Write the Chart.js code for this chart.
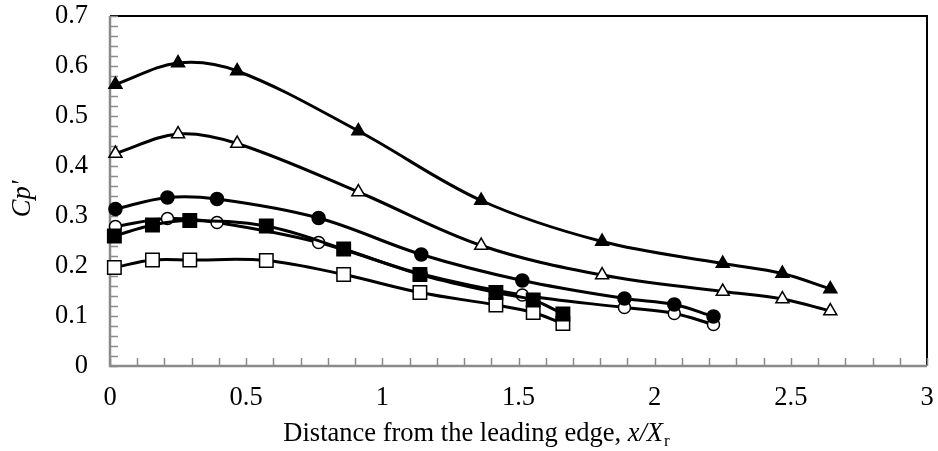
<!DOCTYPE html>
<html>
<head>
<meta charset="utf-8">
<script src="https://cdn.jsdelivr.net/npm/chart.js@4/dist/chart.umd.min.js"></script>
<style>
  html, body { margin: 0; padding: 0; background: #ffffff; }
  #wrap { width: 938px; height: 451px; position: relative; }
</style>
</head>
<body>
<div id="wrap"><canvas id="c" width="938" height="451"></canvas></div>
<script>
// Measuring stations (x/Xr) and fluctuating pressure coefficient Cp' for each case
const xTri = [0.02, 0.25, 0.467, 0.912, 1.363, 1.807, 2.25, 2.469, 2.645];
const cpFilledTri = [0.563, 0.606, 0.59, 0.47, 0.331, 0.249, 0.205, 0.185, 0.154];
const cpOpenTri = [0.425, 0.464, 0.445, 0.348, 0.241, 0.182, 0.149, 0.134, 0.11];

const xCirc = [0.02, 0.211, 0.393, 0.766, 1.143, 1.514, 1.889, 2.072, 2.216];
const cpFilledCirc = [0.314, 0.337, 0.334, 0.296, 0.223, 0.171, 0.135, 0.123, 0.099];
const cpOpenCirc = [0.279, 0.295, 0.287, 0.247, 0.184, 0.142, 0.117, 0.105, 0.083];

const xSq = [0.016, 0.156, 0.293, 0.574, 0.858, 1.138, 1.417, 1.554, 1.663];
const cpFilledSq = [0.26, 0.282, 0.291, 0.28, 0.234, 0.183, 0.147, 0.132, 0.104];
const cpOpenSq = [0.197, 0.212, 0.212, 0.211, 0.183, 0.147, 0.122, 0.107, 0.085];

const xTickLabels = ['0', '0.5', '1', '1.5', '2', '2.5', '3'];
const yTickLabels = ['0', '0.1', '0.2', '0.3', '0.4', '0.5', '0.6', '0.7'];

const FONT = "'Liberation Serif', 'Times New Roman', serif";
const FONT_SIZE = 26.5;

function series(xs, ys) {
  return xs.map((x, i) => ({ x: x, y: ys[i] }));
}

function dataset(label, xs, ys, style, filled, radius, order) {
  return {
    label: label,
    data: series(xs, ys),
    borderColor: '#000000',
    borderWidth: 3,
    tension: 0.35,
    pointStyle: style,
    pointRadius: radius,
    pointBorderWidth: 1.5,
    pointBorderColor: '#000000',
    pointBackgroundColor: filled ? '#000000' : '#ffffff',
    order: order,
    clip: false
  };
}

// Inward tick marks plus the plot frame (grey axes left/bottom, black top/right)
const framePlugin = {
  id: 'frame',
  beforeDatasetsDraw(chart) {
    const ctx = chart.ctx;
    const a = chart.chartArea;
    const xs = chart.scales.x, ys = chart.scales.y;
    ctx.save();
    ctx.strokeStyle = '#000000';
    ctx.lineWidth = 2;
    ctx.beginPath();
    ctx.moveTo(a.left, a.top);
    ctx.lineTo(a.right, a.top);
    ctx.lineTo(a.right, a.bottom);
    ctx.stroke();

    ctx.strokeStyle = '#8a8a8a';
    ctx.lineWidth = 1.5;
    ctx.beginPath();
    xs.ticks.forEach((t, i) => {
      const px = Math.round(xs.getPixelForTick(i)) + 0.5;
      ctx.moveTo(px, a.bottom);
      ctx.lineTo(px, a.bottom - 8);
    });
    ys.ticks.forEach((t, i) => {
      const py = Math.round(ys.getPixelForTick(i)) + 0.5;
      ctx.moveTo(a.left, py);
      ctx.lineTo(a.left + 8, py);
    });
    ctx.stroke();

    ctx.lineWidth = 2.5;
    ctx.beginPath();
    ctx.moveTo(a.left, a.top);
    ctx.lineTo(a.left, a.bottom);
    ctx.lineTo(a.right, a.bottom);
    ctx.stroke();
    ctx.restore();
  },
  afterDraw(chart) {
    const ctx = chart.ctx;
    ctx.save();
    ctx.fillStyle = '#000000';
    // y-axis title
    ctx.translate(23, 199);
    ctx.rotate(-Math.PI / 2);
    ctx.font = 'italic ' + FONT_SIZE + 'px ' + FONT;
    ctx.textAlign = 'center';
    ctx.textBaseline = 'middle';
    ctx.fillText("Cp'", 0, 0);
    ctx.restore();

    // x-axis title with italic variable and subscript
    ctx.save();
    ctx.fillStyle = '#000000';
    ctx.textBaseline = 'alphabetic';
    ctx.textAlign = 'left';
    const p1 = 'Distance from the leading edge, ';
    const p2 = 'x/X';
    const p3 = 'r';
    const fN = FONT_SIZE + 'px ' + FONT;
    const fI = 'italic ' + FONT_SIZE + 'px ' + FONT;
    const fS = '17px ' + FONT;
    ctx.font = fN; const w1 = ctx.measureText(p1).width;
    ctx.font = fI; const w2 = ctx.measureText(p2).width;
    ctx.font = fS; const w3 = ctx.measureText(p3).width;
    const total = w1 + w2 + w3;
    let x = 476 - total / 2;
    const base = 441;
    ctx.font = fN; ctx.fillText(p1, x, base); x += w1;
    ctx.font = fI; ctx.fillText(p2, x, base); x += w2;
    ctx.font = fS; ctx.fillText(p3, x + 1, base + 5);
    ctx.restore();
  }
};

new Chart(document.getElementById('c'), {
  type: 'line',
  data: {
    datasets: [
      dataset('filled triangle', xTri, cpFilledTri, 'triangle', true, 7.5, 1),
      dataset('filled circle', xCirc, cpFilledCirc, 'circle', true, 6.5, 2),
      dataset('filled square', xSq, cpFilledSq, 'rect', true, 9.5, 3),
      dataset('open triangle', xTri, cpOpenTri, 'triangle', false, 7.5, 4),
      dataset('open circle', xCirc, cpOpenCirc, 'circle', false, 6, 5),
      dataset('open square', xSq, cpOpenSq, 'rect', false, 9.5, 6)
    ]
  },
  options: {
    responsive: false,
    animation: false,
    events: [],
    layout: { padding: { top: 16, right: 9, left: 0, bottom: 0 } },
    plugins: { legend: { display: false }, tooltip: { enabled: false } },
    scales: {
      x: {
        type: 'linear',
        min: 0, max: 3,
        grid: { display: false },
        border: { display: false },
        afterFit(scale) {
          scale.height = 85;
          scale.paddingLeft = 0; scale.paddingRight = 0;
          scale.paddingTop = 0; scale.paddingBottom = 0;
        },
        ticks: {
          stepSize: 0.1,
          autoSkip: false,
          maxRotation: 0,
          padding: 8,
          color: '#000000',
          font: { family: FONT, size: FONT_SIZE },
          callback(v) {
            const k = Math.round(v * 10);
            return k % 5 === 0 ? xTickLabels[k / 5] : '';
          }
        }
      },
      y: {
        type: 'linear',
        min: 0, max: 0.7,
        grid: { display: false },
        border: { display: false },
        afterFit(scale) {
          scale.width = 110;
          scale.paddingLeft = 0; scale.paddingRight = 0;
          scale.paddingTop = 0; scale.paddingBottom = 0;
        },
        ticks: {
          stepSize: 0.02,
          autoSkip: false,
          padding: 14,
          color: '#000000',
          font: { family: FONT, size: FONT_SIZE },
          callback(v) {
            const k = Math.round(v * 50);
            return k % 5 === 0 ? yTickLabels[k / 5] : '';
          }
        }
      }
    }
  },
  plugins: [framePlugin]
});
</script>
</body>
</html>
